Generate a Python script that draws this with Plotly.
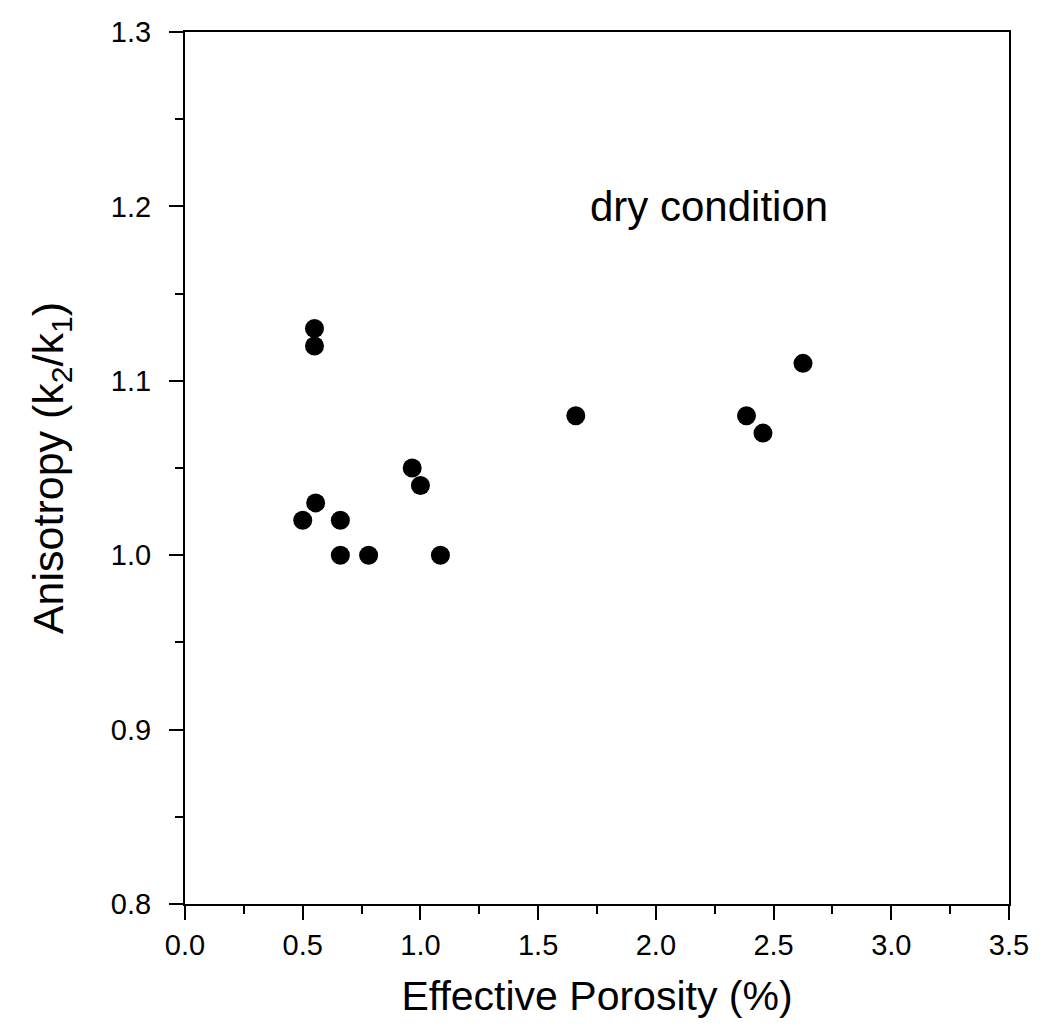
import plotly.graph_objects as go

porosity = [0.50, 0.555, 0.55, 0.55, 0.66, 0.66, 0.78, 0.965, 1.00, 1.085, 1.66, 2.385, 2.455, 2.625]
anisotropy = [1.02, 1.03, 1.13, 1.12, 1.02, 1.00, 1.00, 1.05, 1.04, 1.00, 1.08, 1.08, 1.07, 1.11]

x_ticks = [0.0, 0.5, 1.0, 1.5, 2.0, 2.5, 3.0, 3.5]
y_ticks = [0.8, 0.9, 1.0, 1.1, 1.2, 1.3]

fig = go.Figure()
fig.add_trace(go.Scatter(
    x=porosity, y=anisotropy, mode="markers",
    marker=dict(color="black", size=19, line=dict(width=0)),
    showlegend=False,
))

font = "Liberation Sans, Arial, sans-serif"

fig.add_annotation(x=2.225, y=1.2, text="dry condition", showarrow=False,
                   font=dict(family=font, size=42, color="black"))

fig.update_xaxes(
    range=[0, 3.5], tickvals=x_ticks, ticktext=[f"{v:.1f}" for v in x_ticks],
    ticks="outside", ticklen=14, tickwidth=2, tickcolor="black",
    minor=dict(dtick=0.25, tick0=0, ticks="outside", ticklen=8, tickwidth=2, tickcolor="black"),
    showline=True, linecolor="black", linewidth=2, mirror=True,
    showgrid=False, zeroline=False,
    tickfont=dict(family=font, size=29, color="black"),
    title=dict(text="Effective Porosity (%)", font=dict(family=font, size=41, color="black"), standoff=22),
)
fig.update_yaxes(
    range=[0.8, 1.3], tickvals=y_ticks, ticktext=[f"{v:.1f}" for v in y_ticks],
    ticks="outside", ticklen=14, tickwidth=2, tickcolor="black",
    minor=dict(dtick=0.05, tick0=0.8, ticks="outside", ticklen=8, tickwidth=2, tickcolor="black"),
    showline=True, linecolor="black", linewidth=2, mirror=True,
    showgrid=False, zeroline=False, ticklabelstandoff=12,
    tickfont=dict(family=font, size=29, color="black"),
    title=dict(text="Anisotropy (k<sub>2</sub>/k<sub>1</sub>)", font=dict(family=font, size=43, color="black"), standoff=34),
)
fig.update_layout(
    width=1046, height=1033,
    margin=dict(l=185, r=37, t=32, b=129),
    plot_bgcolor="white", paper_bgcolor="white",
)
fig.write_html("out.html")
